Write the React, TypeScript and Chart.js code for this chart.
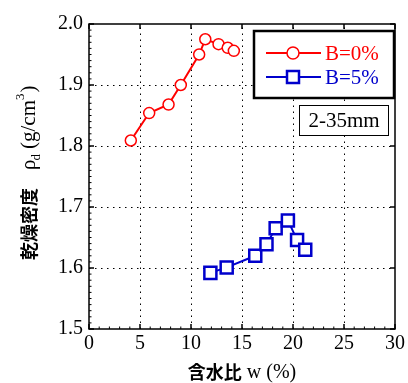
import React, { useEffect, useRef } from "react";
import { Chart, registerables } from "chart.js";

Chart.register(...registerables);

// ---- data ----
const seriesLabels = ["B=0%", "B=5%"];
const moistureB0 = [4.1, 5.9, 7.8, 9.0, 10.8, 11.4, 12.7, 13.6, 14.2];
const densityB0 = [1.809, 1.854, 1.868, 1.9, 1.95, 1.975, 1.967, 1.961, 1.956];
const moistureB5 = [11.9, 13.5, 16.3, 17.4, 18.3, 19.5, 20.4, 21.2];
const densityB5 = [1.592, 1.601, 1.62, 1.639, 1.665, 1.678, 1.646, 1.63];
const xTickValues = [0, 5, 10, 15, 20, 25, 30];
const yTickValues = [1.5, 1.6, 1.7, 1.8, 1.9, 2.0];
const xTitleJa = "含水比";
const xTitleLatin = "w (%)";
const yTitleJa = "乾燥密度";
const yTitleSymbol = "ρ";
const yTitleSub = "d";
const yTitleUnit = "(g/cm";
const yTitleSup = "3";
const sizeLabel = "2-35mm";

const RED = "#ff0000";
const BLUE = "#0000cc";
const SERIF = '"Liberation Serif", "Times New Roman", serif';
const CJK = '"Noto Sans CJK JP", "Noto Sans CJK SC", sans-serif';

const gridPlugin = {
  id: "dottedGrid",
  beforeDatasetsDraw(chart: any) {
    const ctx = chart.ctx as CanvasRenderingContext2D;
    const { left, right, top, bottom } = chart.chartArea;
    const xs = chart.scales.x;
    const ys = chart.scales.y;
    ctx.save();
    ctx.strokeStyle = "#000";
    ctx.lineWidth = 1;
    ctx.setLineDash([1.5, 4.5]);
    ctx.beginPath();
    xTickValues.forEach((v) => {
      const p = Math.round(xs.getPixelForValue(v)) + 0.5;
      if (p <= left + 2 || p >= right - 2) return;
      ctx.moveTo(p, bottom);
      ctx.lineTo(p, top);
    });
    yTickValues.forEach((v) => {
      const p = Math.round(ys.getPixelForValue(v)) + 0.5;
      if (p <= top + 2 || p >= bottom - 2) return;
      ctx.moveTo(left, p);
      ctx.lineTo(right, p);
    });
    ctx.stroke();
    ctx.restore();
  },
};

const decorPlugin = {
  id: "decor",
  afterDraw(chart: any) {
    const ctx = chart.ctx as CanvasRenderingContext2D;
    const { left, right, top, bottom } = chart.chartArea;
    const xs = chart.scales.x;
    const ys = chart.scales.y;
    ctx.save();
    ctx.strokeStyle = "#000";
    // frame
    ctx.lineWidth = 1.5;
    ctx.strokeRect(left, top, right - left, bottom - top);
    // major ticks inward
    ctx.lineWidth = 1.5;
    ctx.beginPath();
    xTickValues.forEach((v) => {
      const p = xs.getPixelForValue(v);
      ctx.moveTo(p, bottom);
      ctx.lineTo(p, bottom - 5);
      ctx.moveTo(p, top);
      ctx.lineTo(p, top + 5);
    });
    yTickValues.forEach((v) => {
      const p = ys.getPixelForValue(v);
      ctx.moveTo(left, p);
      ctx.lineTo(left + 5, p);
      ctx.moveTo(right, p);
      ctx.lineTo(right - 5, p);
    });
    ctx.stroke();
    // minor ticks on left and bottom
    ctx.lineWidth = 1;
    ctx.beginPath();
    for (let i = 1; i < 30; i++) {
      if (i % 5 === 0) continue;
      const p = xs.getPixelForValue(i);
      ctx.moveTo(p, bottom);
      ctx.lineTo(p, bottom - 2.5);
    }
    for (let i = 1; i < 50; i++) {
      if (i % 10 === 0) continue;
      const p = ys.getPixelForValue(1.5 + i * 0.01);
      ctx.moveTo(left, p);
      ctx.lineTo(left + 2.5, p);
    }
    ctx.stroke();

    // legend box
    const bx = right - 141;
    const by = top + 7;
    const bw = 140;
    const bh = 67;
    ctx.fillStyle = "#fff";
    ctx.fillRect(bx, by, bw, bh);
    ctx.lineWidth = 2.5;
    ctx.strokeStyle = "#000";
    ctx.strokeRect(bx, by, bw, bh);
    const rows = [
      { label: seriesLabels[0], color: RED, shape: "circle", y: by + 22 },
      { label: seriesLabels[1], color: BLUE, shape: "square", y: by + 46 },
    ];
    rows.forEach((r) => {
      ctx.strokeStyle = r.color;
      ctx.lineWidth = 2;
      ctx.beginPath();
      ctx.moveTo(bx + 12, r.y);
      ctx.lineTo(bx + 67, r.y);
      ctx.stroke();
      const mx = bx + 39;
      ctx.fillStyle = "#fff";
      ctx.beginPath();
      if (r.shape === "circle") {
        ctx.lineWidth = 1.5;
        ctx.arc(mx, r.y, 6, 0, Math.PI * 2);
      } else {
        ctx.lineWidth = 2.5;
        ctx.rect(mx - 6, r.y - 6, 12, 12);
      }
      ctx.fill();
      ctx.stroke();
      ctx.fillStyle = r.color;
      ctx.font = `21px ${SERIF}`;
      ctx.textAlign = "left";
      ctx.textBaseline = "middle";
      ctx.fillText(r.label, bx + 71, r.y + 1);
    });

    // size label box
    const sx = right - 96;
    const sy = top + 81;
    const sw = 89;
    const sh = 30;
    ctx.fillStyle = "#fff";
    ctx.fillRect(sx, sy, sw, sh);
    ctx.strokeStyle = "#000";
    ctx.lineWidth = 1;
    ctx.strokeRect(sx + 0.5, sy + 0.5, sw, sh);
    ctx.fillStyle = "#000";
    ctx.font = `21px ${SERIF}`;
    ctx.textAlign = "center";
    ctx.textBaseline = "middle";
    ctx.fillText(sizeLabel, sx + sw / 2 + 0.5, sy + sh / 2 + 1);

    // x title
    ctx.textAlign = "left";
    ctx.textBaseline = "middle";
    ctx.font = `bold 18px ${CJK}`;
    const wJa = ctx.measureText(xTitleJa).width;
    ctx.font = `20px ${SERIF}`;
    const wLat = ctx.measureText(" " + xTitleLatin).width;
    const total = wJa + wLat;
    const cx = (left + right) / 2;
    const ty = 372;
    let tx = cx - total / 2;
    ctx.fillStyle = "#000";
    ctx.font = `bold 18px ${CJK}`;
    ctx.fillText(xTitleJa, tx, ty);
    tx += wJa;
    ctx.font = `20px ${SERIF}`;
    ctx.fillText(" " + xTitleLatin, tx, ty + 1);

    // y title (rotated)
    ctx.save();
    ctx.translate(29, 260);
    ctx.rotate(-Math.PI / 2);
    ctx.textBaseline = "middle";
    ctx.textAlign = "left";
    let lx = 0;
    ctx.font = `bold 18px ${CJK}`;
    ctx.fillText(yTitleJa, lx, 0);
    lx += ctx.measureText(yTitleJa).width + 18;
    ctx.font = `21px ${SERIF}`;
    ctx.fillText(yTitleSymbol, lx, 0);
    lx += ctx.measureText(yTitleSymbol).width;
    ctx.font = `13px ${SERIF}`;
    ctx.fillText(yTitleSub, lx - 1, 8);
    lx += ctx.measureText(yTitleSub).width + 4;
    ctx.font = `21px ${SERIF}`;
    ctx.fillText(yTitleUnit, lx, 0);
    lx += ctx.measureText(yTitleUnit).width;
    ctx.font = `13px ${SERIF}`;
    ctx.fillText(yTitleSup, lx, -8);
    lx += ctx.measureText(yTitleSup).width + 1;
    ctx.font = `21px ${SERIF}`;
    ctx.fillText(")", lx, 0);
    ctx.restore();

    ctx.restore();
  },
};

export default function App() {
  const ref = useRef<HTMLCanvasElement | null>(null);
  useEffect(() => {
    document.body.style.margin = "0";
    const canvas = ref.current;
    if (!canvas) return;
    const chart = new Chart(canvas, {
      type: "line",
      data: {
        datasets: [
          {
            label: seriesLabels[0],
            data: moistureB0.map((x, i) => ({ x, y: densityB0[i] })),
            borderColor: RED,
            backgroundColor: "#fff",
            borderWidth: 2,
            pointStyle: "circle",
            pointRadius: 5.5,
            pointBorderWidth: 1.5,
            pointBackgroundColor: "#fff",
            pointBorderColor: RED,
            tension: 0,
          },
          {
            label: seriesLabels[1],
            data: moistureB5.map((x, i) => ({ x, y: densityB5[i] })),
            borderColor: BLUE,
            backgroundColor: "#fff",
            borderWidth: 2,
            pointStyle: "rect",
            pointRadius: 8.5,
            pointBorderWidth: 2.5,
            pointBackgroundColor: "#fff",
            pointBorderColor: BLUE,
            tension: 0,
          },
        ],
      },
      options: {
        responsive: false,
        animation: false,
        devicePixelRatio: 1,
        layout: { padding: { top: 24, right: 13, left: 0, bottom: 0 } },
        plugins: {
          legend: { display: false },
          tooltip: { enabled: false },
          title: { display: false },
        },
        scales: {
          x: {
            type: "linear",
            min: 0,
            max: 30,
            afterBuildTicks: (s: any) => {
              s.ticks = xTickValues.map((v) => ({ value: v }));
            },
            afterFit: (s: any) => {
              s.height = 54;
            },
            ticks: {
              font: { family: SERIF, size: 20 },
              color: "#000",
              padding: 3,
              maxRotation: 0,
              callback: (v: any) => String(v),
            },
            grid: { display: false, drawTicks: false },
            border: { display: false },
          },
          y: {
            type: "linear",
            min: 1.5,
            max: 2.0,
            afterBuildTicks: (s: any) => {
              s.ticks = yTickValues.map((v) => ({ value: v }));
            },
            afterFit: (s: any) => {
              s.width = 89;
            },
            ticks: {
              font: { family: SERIF, size: 20 },
              color: "#000",
              padding: 6,
              callback: (v: any) => Number(v).toFixed(1),
            },
            grid: { display: false, drawTicks: false },
            border: { display: false },
          },
        },
      },
      plugins: [gridPlugin, decorPlugin],
    });
    return () => chart.destroy();
  }, []);
  return (
    <div style={{ width: 408, height: 383 }}>
      <canvas ref={ref} width={408} height={383} style={{ display: "block" }} />
    </div>
  );
}
